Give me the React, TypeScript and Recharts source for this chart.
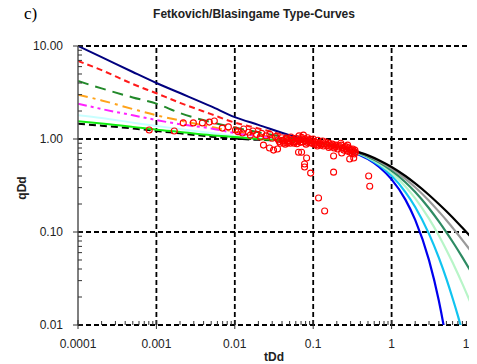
import React from "react"
import { ComposedChart, Line, Scatter, XAxis, YAxis, ReferenceLine } from "recharts"

// transient stems (left part), sampled at these tDd values
const stemT = [0.0001, 0.0002, 0.0005, 0.001, 0.002, 0.005, 0.01, 0.02, 0.05, 0.1, 0.2, 0.3]
const stemNavy = [10, 7.6, 5.25, 4.0, 3.12, 2.24, 1.72, 1.42, 1.1, 0.94, 0.83, 0.76]
const stemRed = [6.9, 5.5, 3.9, 3.1, 2.45, 1.85, 1.5, 1.3, 1.07, 0.94, 0.83, 0.76]
const stemGreen = [4.2, 3.5, 2.8, 2.4, 1.9, 1.52, 1.33, 1.18, 1.03, 0.93, 0.83, 0.76]
const stemOrange = [3.0, 2.6, 2.1, 1.8, 1.58, 1.35, 1.2, 1.1, 1.0, 0.93, 0.83, 0.76]
const stemMagenta = [2.4, 2.1, 1.8, 1.6, 1.44, 1.3, 1.16, 1.07, 0.98, 0.93, 0.83, 0.76]
const stemCyan = [1.8, 1.68, 1.5, 1.38, 1.28, 1.16, 1.08, 1.02, 0.97, 0.93, 0.83, 0.76]
const stemLime = [1.55, 1.47, 1.35, 1.26, 1.19, 1.1, 1.05, 1.0, 0.96, 0.93, 0.83, 0.76]
const stemBlack = [1.46, 1.39, 1.3, 1.22, 1.15, 1.06, 1.01, 0.98, 0.95, 0.93, 0.83, 0.76]

// depletion stems (right part)
const arpsT = [0.3, 0.5, 0.7, 1, 1.5, 2, 3, 4, 5, 6, 7, 8, 10]
const arpsB00 = [0.741, 0.607, 0.497, 0.368, 0.223, 0.135, 0.0498, 0.0183, 0.0067, 0.0025, 0.0009, 0.00034, 0.00005]
const arpsB02 = [0.747, 0.621, 0.519, 0.402, 0.269, 0.186, 0.0954, 0.0529, 0.0313, 0.0194, 0.0126, 0.0084, 0.0041]
const arpsB04 = [0.753, 0.634, 0.539, 0.431, 0.309, 0.23, 0.139, 0.0917, 0.0642, 0.0469, 0.0355, 0.0277, 0.0179]
const arpsB06 = [0.759, 0.646, 0.557, 0.457, 0.343, 0.269, 0.18, 0.13, 0.0992, 0.0786, 0.0641, 0.0534, 0.0391]
const arpsB08 = [0.764, 0.657, 0.574, 0.48, 0.373, 0.303, 0.217, 0.166, 0.134, 0.111, 0.0945, 0.0819, 0.0642]
const arpsB10 = [0.769, 0.667, 0.588, 0.5, 0.4, 0.333, 0.25, 0.2, 0.167, 0.143, 0.125, 0.111, 0.0909]

// field data (red circles)
const fieldT = [
  0.00081, 0.00169, 0.0022, 0.00296, 0.00386, 0.00473, 0.00548, 0.00693, 0.00828, 0.0102,
  0.011, 0.0125, 0.013, 0.015, 0.0158, 0.017, 0.019, 0.0212, 0.022, 0.0232,
  0.025, 0.0277, 0.028, 0.03, 0.0312, 0.033, 0.0351, 0.036, 0.038, 0.04,
  0.0418, 0.042, 0.044, 0.046, 0.0471, 0.049, 0.052, 0.054, 0.0561, 0.057,
  0.06, 0.063, 0.065, 0.066, 0.069, 0.0711, 0.072, 0.075, 0.0776, 0.0776,
  0.078, 0.081, 0.0824, 0.085, 0.088, 0.0927, 0.092, 0.096, 0.1, 0.105,
  0.11, 0.115, 0.117, 0.12, 0.126, 0.132, 0.138, 0.14, 0.145, 0.152,
  0.16, 0.168, 0.176, 0.182, 0.182, 0.185, 0.195, 0.205, 0.215, 0.225,
  0.231, 0.235, 0.245, 0.255, 0.265, 0.275, 0.275, 0.285, 0.292, 0.295,
  0.305, 0.315, 0.325, 0.329, 0.335, 0.345, 0.51, 0.526,
  0.037, 0.041, 0.045, 0.048, 0.051, 0.055, 0.059, 0.062, 0.067, 0.071,
  0.074, 0.079, 0.083, 0.087, 0.091, 0.098, 0.103, 0.108, 0.113, 0.124,
  0.135, 0.148, 0.158, 0.172, 0.19, 0.21, 0.228, 0.25, 0.27, 0.3,
  0.32, 0.34,
]
const fieldQ = [
  1.25, 1.22, 1.49, 1.49, 1.49, 1.52, 1.56, 1.31, 1.35, 1.25,
  1.2, 1.16, 1.28, 1.18, 1.1, 1.22, 1.12, 1.05, 1.15, 0.86,
  1.08, 0.8, 1.12, 1.02, 0.76, 1.06, 0.78, 0.98, 0.9, 1.03,
  0.905, 0.95, 0.88, 1.0, 0.905, 0.93, 1.05, 0.97, 0.93, 0.9,
  1.02, 0.95, 0.72, 1.08, 0.92, 0.72, 1.0, 1.1, 0.538, 0.5,
  0.96, 0.88, 0.625, 1.03, 0.94, 0.43, 0.99, 0.9, 1.0, 0.93,
  0.87, 0.97, 0.232, 0.91, 0.86, 0.95, 0.89, 0.168, 0.93, 0.85,
  0.9, 0.83, 0.88, 0.656, 0.44, 0.8, 0.86, 0.78, 0.84, 0.9,
  0.707, 0.8, 0.76, 0.83, 0.78, 0.74, 0.86, 0.8, 0.61, 0.72,
  0.77, 0.7, 0.74, 0.625, 0.69, 0.72, 0.4, 0.31,
  0.94, 0.97, 1.02, 0.96, 0.9, 0.99, 0.94, 0.89, 0.98, 1.04,
  0.93, 1.0, 0.92, 0.97, 0.91, 0.95, 0.88, 0.92, 0.84, 0.89,
  0.84, 0.88, 0.81, 0.85, 0.83, 0.82, 0.86, 0.79, 0.82, 0.75,
  0.78, 0.76,
]

const xMajor = [0.0001, 0.001, 0.01, 0.1, 1, 10]
const xLabels = ["0.0001", "0.001", "0.01", "0.1", "1", "10"]
const yMajor = [0.01, 0.1, 1, 10]
const yLabels = ["0.01", "0.10", "1.00", "10.00"]
const minorSteps = [2, 3, 4, 5, 6, 7, 8, 9]

const xTicks = [...xMajor, ...xMajor.slice(0, -1).flatMap((d) => minorSteps.map((m) => d * m))]
const yTicks = [...yMajor, ...yMajor.slice(0, -1).flatMap((d) => minorSteps.map((m) => d * m))]

const pts = (ts: number[], qs: number[]) => ts.map((t, i) => ({ t, q: qs[i] }))

const stems = [
  { key: "navy", q: stemNavy, color: "#00007f", dash: undefined },
  { key: "red", q: stemRed, color: "#ff1a1a", dash: "6 4" },
  { key: "green", q: stemGreen, color: "#22892a", dash: "11 7" },
  { key: "orange", q: stemOrange, color: "#ffa31a", dash: "10 5 3 5" },
  { key: "magenta", q: stemMagenta, color: "#ff22ff", dash: "9 4 3 4 3 4" },
  { key: "cyan", q: stemCyan, color: "#c8ffff", dash: undefined },
  { key: "black", q: stemBlack, color: "#000000", dash: "7 4" },
  { key: "lime", q: stemLime, color: "#11ee11", dash: undefined },
]

const arps = [
  { key: "b0", q: arpsB00, color: "#0000ee" },
  { key: "b2", q: arpsB02, color: "#11c4f0" },
  { key: "b4", q: arpsB04, color: "#b8f5c8" },
  { key: "b6", q: arpsB06, color: "#2e8b63" },
  { key: "b8", q: arpsB08, color: "#9a9a9a" },
  { key: "b10", q: arpsB10, color: "#000000" },
]

const field = pts(fieldT, fieldQ)
const font = "'Liberation Sans', Arial, sans-serif"

const XTick = (props: any) => {
  const { x, y, payload } = props
  const i = xMajor.indexOf(payload.value)
  const major = i >= 0
  const last = i === xMajor.length - 1
  return (
    <g>
      <line x1={x} x2={x} y1={y - (major ? 5 : 4)} y2={y + (major ? 4 : 0)} stroke="#333" strokeWidth={1} />
      {major && (
        <text x={last ? x + 6 : x} y={y + 23} textAnchor={last ? "end" : "middle"} fontSize={12} fontFamily={font} fill="#222">
          {xLabels[i]}
        </text>
      )}
    </g>
  )
}

const YTick = (props: any) => {
  const { x, y, payload } = props
  const i = yMajor.indexOf(payload.value)
  const major = i >= 0
  return (
    <g>
      <line x1={x - (major ? 5 : 0)} x2={x + (major ? 5 : 4)} y1={y} y2={y} stroke="#333" strokeWidth={1} />
      {major && (
        <text x={x - 15} y={y} dy="0.35em" textAnchor="end" fontSize={12} fontFamily={font} fill="#222">
          {yLabels[i]}
        </text>
      )}
    </g>
  )
}

const Circle = (props: any) => (
  <circle cx={props.cx} cy={props.cy} r={3} fill="none" stroke="#ff0000" strokeWidth={1.1} />
)

export default function App() {
  return (
    <div style={{ position: "relative", width: 477, height: 364, marginLeft: -8, marginTop: -8, fontFamily: font }}>
      <div style={{ position: "absolute", left: 24, top: 4, fontFamily: "'Liberation Serif', serif", fontSize: 17 }}>
        c)
      </div>
      <div
        style={{
          position: "absolute",
          left: 0,
          width: 508,
          top: 8,
          textAlign: "center",
          fontWeight: "bold",
          fontSize: 12,
          lineHeight: "12px",
          color: "#222",
        }}
      >
        Fetkovich/Blasingame Type-Curves
      </div>
      <ComposedChart width={477} height={364} margin={{ top: 46, right: 7, bottom: 0, left: 0 }}>
        <XAxis
          dataKey="t"
          type="number"
          scale="log"
          domain={[0.0001, 10]}
          allowDataOverflow
          ticks={xTicks}
          interval={0}
          tick={<XTick />}
          tickLine={false}
          tickSize={0}
          tickMargin={0}
          axisLine={false}
          height={39}
        />
        <YAxis
          dataKey="q"
          type="number"
          scale="log"
          domain={[0.01, 10]}
          allowDataOverflow
          ticks={yTicks}
          interval={0}
          tick={<YTick />}
          tickLine={false}
          tickSize={0}
          tickMargin={0}
          axisLine={{ stroke: "#555", strokeWidth: 1.5 }}
          width={78}
        />
        {[0.001, 0.01, 0.1, 1].map((v) => (
          <ReferenceLine key={"vx" + v} x={v} stroke="#000" strokeWidth={1.8} strokeDasharray="5 3" />
        ))}
        <ReferenceLine x={10} stroke="#999" strokeWidth={1} />
        {yMajor.map((v) => (
          <ReferenceLine key={"hy" + v} y={v} stroke="#000" strokeWidth={1.8} strokeDasharray="5 3" />
        ))}
        {stems.map((s) => (
          <Line
            key={s.key}
            data={pts(stemT, s.q)}
            dataKey="q"
            type="monotone"
            stroke={s.color}
            strokeWidth={2}
            strokeDasharray={s.dash}
            dot={false}
            activeDot={false}
            isAnimationActive={false}
          />
        ))}
        {arps.map((s) => (
          <Line
            key={s.key}
            data={pts(arpsT, s.q)}
            dataKey="q"
            type="monotone"
            stroke={s.color}
            strokeWidth={2.2}
            dot={false}
            activeDot={false}
            isAnimationActive={false}
          />
        ))}
        <Scatter data={field} dataKey="q" shape={<Circle />} isAnimationActive={false} />
      </ComposedChart>
      <div
        style={{
          position: "absolute",
          left: 78,
          width: 392,
          top: 351,
          textAlign: "center",
          fontWeight: "bold",
          fontSize: 12,
          lineHeight: "12px",
          color: "#222",
        }}
      >
        tDd
      </div>
      <div
        style={{
          position: "absolute",
          left: 22,
          top: 188,
          transform: "translate(-50%, -50%) rotate(-90deg)",
          fontWeight: "bold",
          fontSize: 12,
          lineHeight: "12px",
          color: "#222",
        }}
      >
        qDd
      </div>
    </div>
  )
}
